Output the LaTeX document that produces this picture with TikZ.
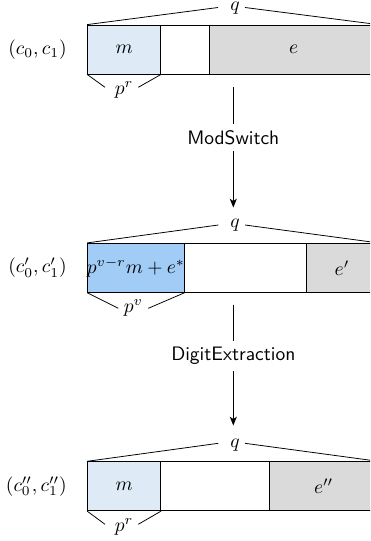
\documentclass[tikz,border=0pt]{standalone}
\usetikzlibrary{fit,arrows.meta}
\definecolor{lightblue}{RGB}{222,234,246}
\definecolor{midblue}{RGB}{160,204,246}
\definecolor{cellgray}{RGB}{218,218,218}
\tikzset{
  cell/.style={draw, inner sep=0pt},
  celltext/.style={inner sep=0pt},
  sidelab/.style={anchor=east, inner sep=0pt},
  toplab/.style={anchor=base, inner sep=0pt},
  flowlab/.style={fill=white, font=\sffamily},
  arr/.style={-{Stealth[length=4.5pt,width=3.6pt,inset=1.2pt]}}
}
\begin{document}
\begin{tikzpicture}[x=0.5128pt,y=-0.5128pt]
\useasboundingbox (0,0) rectangle (370,541);
\clip (0,0) rectangle (370,541);

% ---------- row 1 ----------
\node[cell, fill=lightblue, fit={(87.5,25) (160.7,74)}] (m1) {};
\node[cell, fill=white, fit={(160.7,25) (209.3,74)}] (w1) {};
\node[cell, fill=cellgray, fit={(209.3,25) (378,74)}] (e1) {};
\node[celltext] (m1t) at (m1.center) {$m$};
\node[celltext] (e1t) at (e1.center) {$e$};
\node[sidelab] (l1) at (67,49.5) {$(c_0,c_1)$};
\node[toplab] (q1) at (235,10.8) {$q$};
\coordinate (q1l) at (218,7.5);
\coordinate (q1r) at (245,7.5);
\draw (m1.north west) -- (q1l);
\draw (q1r) -- (e1.north east);
\node[toplab] (p1) at (124,94.2) {$p^r$};
\coordinate (p1l) at (105,87.3);
\coordinate (p1r) at (138.3,87.3);
\draw (m1.south west) -- (p1l);
\draw (p1r) -- (m1.south east);

% ---------- arrow 1 ----------
\coordinate (a1s) at (233.3,87);
\coordinate (a1e) at (233.3,207.5);
\draw[arr] (a1s) -- (a1e);
\node[flowlab] (ms) at (233.3,137.5) {ModSwitch};

% ---------- row 2 ----------
\node[cell, fill=midblue, fit={(87.5,243.3) (184.3,292.3)}] (m2) {};
\node[cell, fill=white, fit={(184.3,243.3) (306,292.3)}] (w2) {};
\node[cell, fill=cellgray, fit={(306,243.3) (378,292.3)}] (e2) {};
\node[celltext] (m2t) at (m2.center) {$p^{v-r}m+e^*$};
\node[celltext] (e2t) at (e2.center) {$e'$};
\node[sidelab] (l2) at (67,267.8) {$(c'_0,c'_1)$};
\node[toplab] (q2) at (235,227.5) {$q$};
\coordinate (q2l) at (218.3,225);
\coordinate (q2r) at (245,225);
\draw (m2.north west) -- (q2l);
\draw (q2r) -- (e2.north east);
\node[toplab] (p2) at (133.3,312.9) {$p^v$};
\coordinate (p2l) at (118.3,308.3);
\coordinate (p2r) at (148.3,308.3);
\draw (m2.south west) -- (p2l);
\draw (p2r) -- (m2.south east);

% ---------- arrow 2 ----------
\coordinate (a2s) at (233.3,304.5);
\coordinate (a2e) at (233.3,425.5);
\draw[arr] (a2s) -- (a2e);
\node[flowlab] (de) at (233.3,356) {DigitExtraction};

% ---------- row 3 ----------
\node[cell, fill=lightblue, fit={(87.5,461.7) (160.7,510.7)}] (m3) {};
\node[cell, fill=white, fit={(160.7,461.7) (269.3,510.7)}] (w3) {};
\node[cell, fill=cellgray, fit={(269.3,461.7) (378,510.7)}] (e3) {};
\node[celltext] (m3t) at (m3.center) {$m$};
\node[celltext] (e3t) at (e3.center) {$e''$};
\node[sidelab] (l3) at (67,486.2) {$(c''_0,c''_1)$};
\node[toplab] (q3) at (235,447) {$q$};
\coordinate (q3l) at (218.3,443.3);
\coordinate (q3r) at (245,443.3);
\draw (m3.north west) -- (q3l);
\draw (q3r) -- (e3.north east);
\node[toplab] (p3) at (124,531.2) {$p^r$};
\coordinate (p3l) at (105,524.3);
\coordinate (p3r) at (138.3,524.3);
\draw (m3.south west) -- (p3l);
\draw (p3r) -- (m3.south east);
\end{tikzpicture}
\end{document}
